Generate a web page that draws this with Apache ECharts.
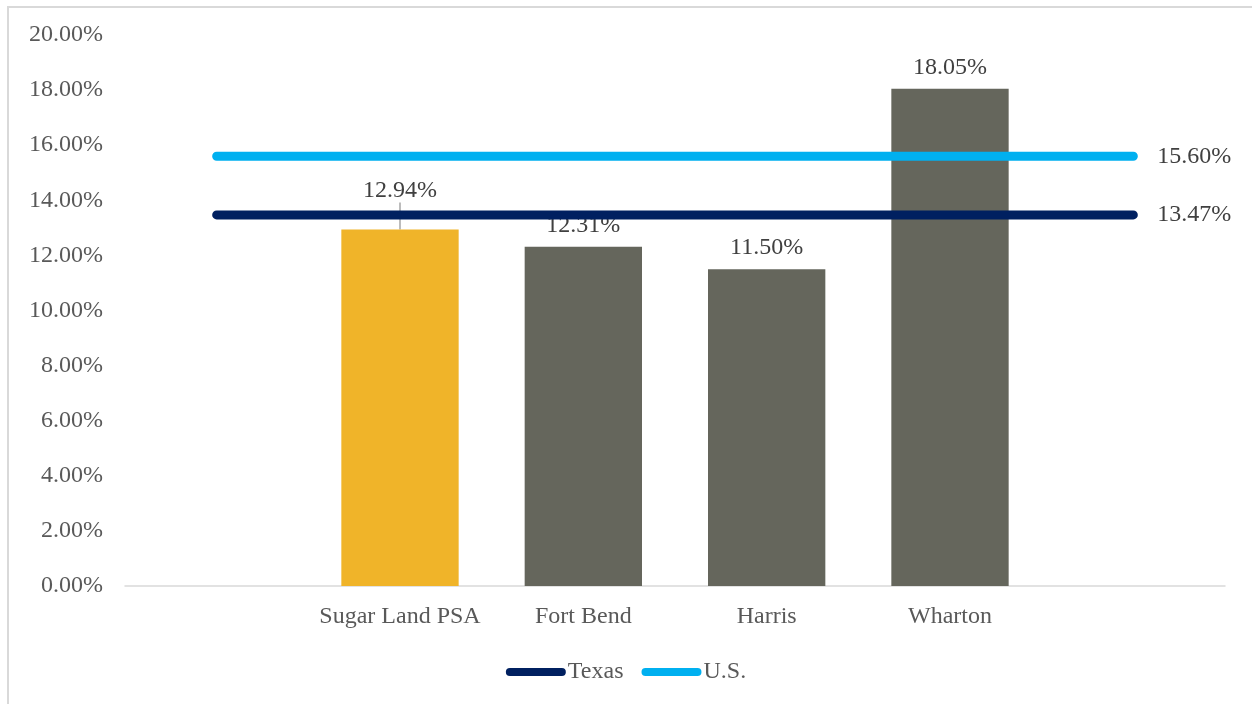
<!DOCTYPE html>
<html>
<head>
<meta charset="utf-8">
<script src="https://cdn.jsdelivr.net/npm/echarts@6/dist/echarts.min.js"></script>
<style>
  html, body { margin: 0; padding: 0; background: #fff; overflow: hidden; }
  #frame { position: absolute; left: 7px; top: 6px; width: 1300px; height: 760px; border-top: 2px solid #d9d9d9; border-left: 2px solid #d9d9d9; box-sizing: border-box; }
  #chart-container { position: absolute; left: 0; top: 0; width: 1252px; height: 704px; }
</style>
</head>
<body>
<div id="frame"></div>
<div id="chart-container"></div>
<script>
// categories (blank slots at both ends, like the original sheet)
const categories = ['', 'Sugar Land PSA', 'Fort Bend', 'Harris', 'Wharton', ''];
const areaValues = ['-', 12.94, 12.31, 11.50, 18.05, '-'];
const texasValue = 13.47;
const usValue = 15.60;
const texasLine = categories.map(() => texasValue);
const usLine = categories.map(() => usValue);
const yTicks = [0, 2, 4, 6, 8, 10, 12, 14, 16, 18, 20];

const FONT = 'Liberation Serif';
const FS = 24;
const chartDom = document.getElementById('chart-container');
const myChart = echarts.init(chartDom, null, { renderer: 'canvas' });

const option = {
    animation: false,
    textStyle: { fontFamily: FONT },
    grid: { left: 125, right: 27, top: 35, bottom: 118, containLabel: false },
    legend: {
        data: ['Texas', 'U.S.'],
        left: 'center',
        top: 655,
        itemWidth: 60,
        itemHeight: 8,
        itemGap: 18,
        icon: 'path://M4,0 H56 A4,4 0 0 1 56,8 H4 A4,4 0 0 1 4,0 Z',
        textStyle: { fontFamily: FONT, fontSize: FS, color: '#595959', padding: [0, 0, 0, -3] }
    },
    xAxis: {
        type: 'category',
        data: categories,
        axisTick: { show: false },
        axisLine: { lineStyle: { color: '#d9d9d9', width: 1.5 } },
        axisLabel: { fontFamily: FONT, fontSize: FS, color: '#595959', margin: 19, interval: 0 }
    },
    yAxis: {
        type: 'value',
        min: yTicks[0],
        max: yTicks[yTicks.length - 1],
        interval: 2,
        splitLine: { show: false },
        axisLine: { show: false },
        axisTick: { show: false },
        axisLabel: {
            fontFamily: FONT, fontSize: FS, color: '#595959', margin: 22,
            padding: [6, 0, 0, 0],
            formatter: v => v.toFixed(2) + '%'
        }
    },
    series: [
        {
            name: 'Area',
            type: 'bar',
            barWidth: '64%',
            z: 2,
            data: areaValues.map((v, i) => ({
                value: v,
                itemStyle: { color: i === 1 ? '#f0b429' : '#65665c' },
                labelLine: { show: i === 1 }
            })),
            label: {
                show: true,
                position: 'top',
                distance: 9,
                fontFamily: FONT,
                fontSize: FS,
                color: '#404040',
                formatter: p => p.value.toFixed(2) + '%'
            },
            labelLayout: p => (p.dataIndex === 1 ? { dy: -18 } : {}),
            labelLine: { show: false, length2: 0, lineStyle: { color: '#a6a6a6', width: 1.5 } }
        },
        {
            name: 'Texas',
            type: 'line',
            z: 3,
            data: texasLine,
            symbol: 'none',
            color: '#002060',
            lineStyle: { width: 9, cap: 'round', color: '#002060' },
            endLabel: {
                show: true, distance: 24, fontFamily: FONT, fontSize: FS, color: '#404040',
                formatter: p => p.value.toFixed(2) + '%'
            }
        },
        {
            name: 'U.S.',
            type: 'line',
            z: 3,
            data: usLine,
            symbol: 'none',
            color: '#00b0f0',
            lineStyle: { width: 9, cap: 'round', color: '#00b0f0' },
            endLabel: {
                show: true, distance: 24, fontFamily: FONT, fontSize: FS, color: '#404040',
                formatter: p => p.value.toFixed(2) + '%'
            }
        }
    ]
};

myChart.setOption(option);
window.addEventListener('resize', myChart.resize);
</script>
</body>
</html>
